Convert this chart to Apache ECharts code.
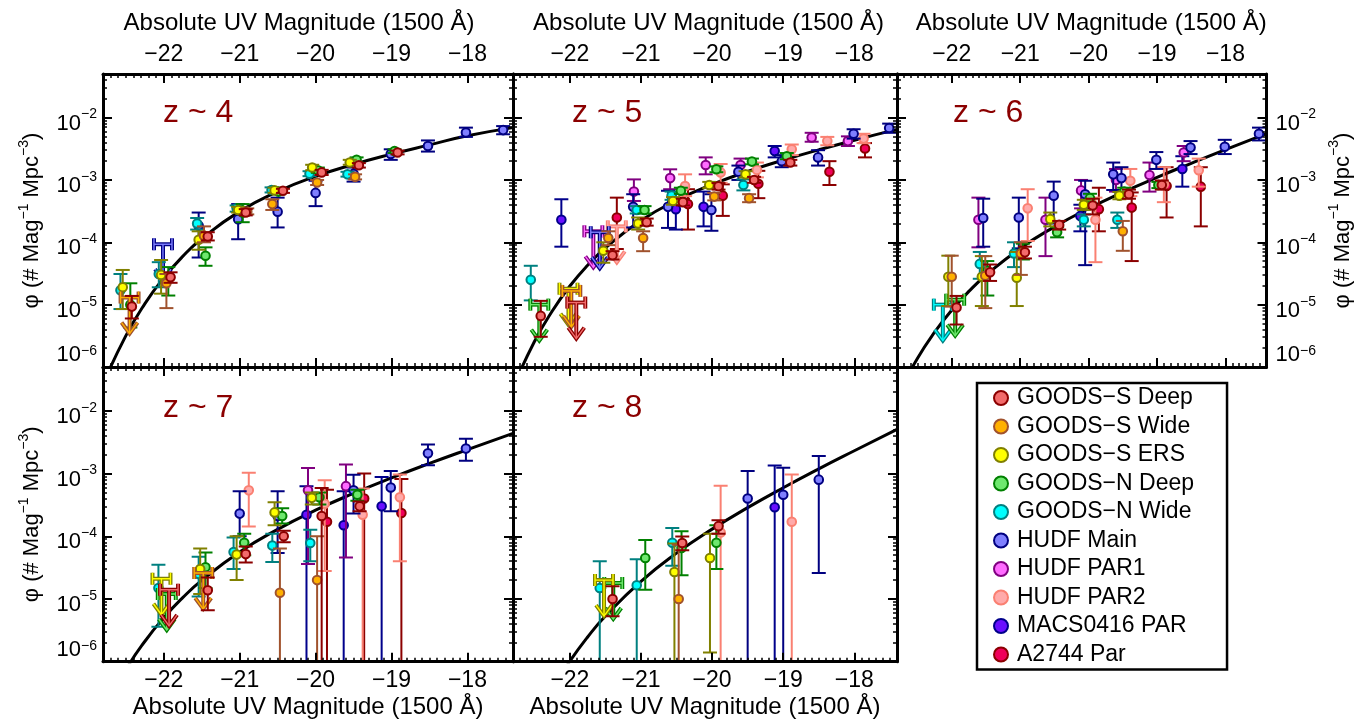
<!DOCTYPE html>
<html><head><meta charset="utf-8">
<script src="https://cdn.jsdelivr.net/npm/echarts@6/dist/echarts.min.js"></script>
<style>html,body{margin:0;padding:0;background:#fff}#c{width:1371px;height:725px}</style>
</head><body><div id="c"></div>
<script>
// ---------------- DATA ----------------
const FIELD_CODES = ['GSD','GSW','ERS','GND','GNW','HM','P1','P2','MACS','A2744'];
const FIELD_NAMES = ['GOODS−S Deep','GOODS−S Wide','GOODS−S ERS','GOODS−N Deep','GOODS−N Wide','HUDF Main','HUDF PAR1','HUDF PAR2','MACS0416 PAR','A2744 Par'];
const PANEL_LABELS = ['z ~ 4','z ~ 5','z ~ 6','z ~ 7','z ~ 8'];
const X_TICKS = [-22,-21,-20,-19,-18];
const Y_TICKS = [1e-6,1e-5,1e-4,1e-3,1e-2];

// Schechter fit curves at these magnitudes
const CURVE_MAGS = [-22.8,-22.5,-22.25,-22,-21.75,-21.5,-21,-20.5,-20,-19.5,-19,-18.5,-18,-17.4];
const z4Curve = [5.3e-7,3.16e-6,1.03e-5,2.69e-5,5.94e-5,1.14e-4,3.13e-4,6.52e-4,1.14e-3,1.77e-3,2.59e-3,3.65e-3,5.1e-3,6.9e-3];
const z5Curve = [4.66e-7,2.54e-6,7.83e-6,1.99e-5,4.29e-5,8.15e-5,2.23e-4,4.71e-4,8.45e-4,1.37e-3,2.08e-3,3.04e-3,4.34e-3,6.47e-3];
const z6Curve = [3.39e-7,1.38e-6,3.62e-6,8.15e-6,1.63e-5,2.96e-5,7.98e-5,1.77e-4,3.48e-4,6.34e-4,1.10e-3,1.85e-3,3.07e-3,5.52e-3];
const z7Curve = [1.64e-7,7.46e-7,2.10e-6,5.01e-6,1.05e-5,1.98e-5,5.62e-5,1.29e-4,2.61e-4,4.83e-4,8.51e-4,1.45e-3,2.41e-3,4.37e-3];
const z8Curve = [1.8e-8,1.08e-7,3.65e-7,1.02e-6,2.48e-6,5.35e-6,1.91e-5,5.38e-5,1.30e-4,2.86e-4,5.94e-4,1.19e-3,2.31e-3,5.05e-3];

// points: [field, M_UV, phi, phi_low, phi_high]
const z4Points = [
 ['GSD',-22.42,9.3e-6,6.0e-6,1.38e-5],['GSD',-21.91,2.75e-5,2.24e-5,3.3e-5],['GSD',-21.42,1.24e-4,1.07e-4,1.45e-4],['GSD',-20.92,3.0e-4,2.7e-4,3.4e-4],
 ['GSD',-20.43,6.7e-4,6.2e-4,7.2e-4],['GSD',-19.92,1.32e-3,1.2e-3,1.45e-3],['GSD',-19.43,1.72e-3,1.58e-3,1.86e-3],['GSD',-18.92,2.75e-3,2.57e-3,2.95e-3],
 ['GSW',-21.965,2.2e-5,8.8e-6,3.1e-5],['GSW',-21.47,1.27e-4,1.0e-4,1.8e-4],['GSW',-20.90,3.1e-4,2.8e-4,3.5e-4],['GSW',-20.57,4.1e-4,3.3e-4,4.9e-4],
 ['GSW',-19.98,9.1e-4,8.3e-4,1.0e-3],['GSW',-19.48,1.12e-3,1.02e-3,1.23e-3],
 ['ERS',-22.54,1.9e-5,8.5e-6,3.6e-5],['ERS',-22.035,3.0e-5,1.5e-5,5.2e-5],['ERS',-21.54,1.1e-4,7.6e-5,1.5e-4],['ERS',-21.02,3.3e-4,3.0e-4,3.7e-4],
 ['ERS',-20.54,6.8e-4,6.2e-4,7.5e-4],['ERS',-20.045,1.58e-3,1.43e-3,1.75e-3],['ERS',-19.55,1.9e-3,1.75e-3,2.1e-3],
 ['GND',-22.44,1.0e-5,4.3e-6,2.2e-5],['GND',-21.94,2.6e-5,1.4e-5,4.0e-5],['GND',-21.45,6.1e-5,4.2e-5,8.3e-5],['GND',-20.96,3.0e-4,2.1e-4,4.1e-4],
 ['GND',-20.49,6.5e-4,5.9e-4,7.2e-4],['GND',-19.97,1.43e-3,1.3e-3,1.58e-3],['GND',-19.46,2.1e-3,1.9e-3,2.3e-3],['GND',-18.96,2.9e-3,2.7e-3,3.1e-3],
 ['GNW',-22.57,1.7e-5,8.5e-6,3.1e-5],['GNW',-22.065,3.1e-5,1.9e-5,4.8e-5],['GNW',-21.56,2.0e-4,1.6e-4,2.45e-4],['GNW',-21.04,3.5e-4,3.1e-4,3.9e-4],
 ['GNW',-20.58,6.9e-4,6.3e-4,7.6e-4],['GNW',-20.08,1.26e-3,1.15e-3,1.38e-3],['GNW',-19.58,1.23e-3,1.13e-3,1.35e-3],
 ['HM',-21.54,1.85e-4,5.7e-5,3.0e-4],['HM',-21.02,2.35e-4,1.12e-4,4.1e-4],['HM',-20.50,3.1e-4,1.73e-4,5.2e-4],['HM',-20.00,6.2e-4,3.8e-4,9.7e-4],
 ['HM',-19.50,1.26e-3,9.4e-4,1.58e-3],['HM',-19.01,2.6e-3,2.1e-3,3.1e-3],['HM',-18.52,3.5e-3,2.85e-3,4.3e-3],['HM',-18.02,5.75e-3,4.9e-3,6.9e-3],
 ['HM',-17.53,6.3e-3,5.4e-3,7.3e-3]
];
const z4Limits = [['GSW',-22.45,1.3e-5],['HM',-22.01,9.3e-5]];

const z5Points = [
 ['GNW',-22.55,2.5e-5,1.17e-5,4.2e-5],['GNW',-21.06,3.3e-4,2.9e-4,3.8e-4],['GNW',-20.57,5.6e-4,4.8e-4,6.5e-4],['GNW',-19.56,8.3e-4,6.8e-4,1.02e-3],
 ['GSD',-22.41,6.6e-6,3.05e-6,1.15e-5],['GSD',-21.40,6.2e-5,5.3e-5,7.2e-5],['GSD',-20.92,2.1e-4,1.85e-4,2.4e-4],['GSD',-20.41,4.4e-4,3.9e-4,5.0e-4],
 ['GSD',-19.91,7.9e-4,7.0e-4,8.9e-4],['GSD',-19.41,1.0e-3,9.0e-4,1.12e-3],['GSD',-18.90,1.9e-3,1.7e-3,2.1e-3],
 ['GSW',-21.46,1.17e-4,9.0e-5,1.5e-4],['GSW',-20.97,1.17e-4,7.2e-5,1.5e-4],['GSW',-19.97,5.4e-4,4.7e-4,6.2e-4],['GSW',-19.48,5.1e-4,4.4e-4,5.9e-4],
 ['ERS',-21.53,7.3e-5,4.7e-5,1.0e-4],['ERS',-21.04,2.0e-4,1.6e-4,2.5e-4],['ERS',-20.55,4.6e-4,4.0e-4,5.3e-4],['ERS',-20.04,8.3e-4,7.4e-4,9.3e-4],['ERS',-19.53,1.23e-3,1.1e-3,1.38e-3],
 ['GND',-20.95,3.3e-4,2.9e-4,3.8e-4],['GND',-20.44,6.7e-4,6.0e-4,7.5e-4],['GND',-19.94,1.48e-3,1.33e-3,1.65e-3],['GND',-19.44,1.97e-3,1.78e-3,2.2e-3],['GND',-18.95,2.4e-3,2.15e-3,2.7e-3],
 ['HM',-21.11,3.7e-4,1.73e-4,5.9e-4],['HM',-20.62,3.7e-4,1.7e-4,6.7e-4],['HM',-20.01,3.3e-4,1.53e-4,5.9e-4],['HM',-19.63,1.35e-3,1.0e-3,1.7e-3],
 ['HM',-19.02,2.0e-3,1.6e-3,2.5e-3],['HM',-18.51,2.3e-3,1.7e-3,3.0e-3],['HM',-18.01,5.5e-3,4.6e-3,6.5e-3],['HM',-17.51,6.8e-3,5.7e-3,8.0e-3],
 ['P1',-21.10,6.5e-4,4.6e-4,1.02e-3],['P1',-20.59,1.07e-3,7.1e-4,1.48e-3],['P1',-20.09,1.74e-3,1.23e-3,2.3e-3],['P1',-19.60,1.74e-3,1.3e-3,2.2e-3],
 ['P1',-18.60,4.8e-3,4.1e-3,5.7e-3],['P1',-18.09,4.2e-3,3.5e-3,5.0e-3],
 ['P2',-20.38,8.0e-4,5.5e-4,1.23e-3],['P2',-19.88,1.32e-3,9.0e-4,1.8e-3],['P2',-19.37,1.45e-3,1.1e-3,1.9e-3],['P2',-18.88,3.1e-3,2.5e-3,3.7e-3],
 ['P2',-18.38,4.2e-3,3.6e-3,4.9e-3],['P2',-17.87,4.6e-3,3.9e-3,5.5e-3],
 ['MACS',-22.12,2.3e-4,8.5e-5,4.9e-4],['MACS',-20.51,3.4e-4,1.6e-4,6.0e-4],['MACS',-20.12,3.7e-4,1.8e-4,6.5e-4],['MACS',-19.12,2.9e-3,2.3e-3,3.5e-3],
 ['A2744',-21.34,2.5e-4,7.8e-5,5.2e-4],['A2744',-20.34,4.1e-4,1.6e-4,7.1e-4],['A2744',-19.85,5.6e-4,2.65e-4,8.5e-4],['A2744',-19.35,8.7e-4,5.1e-4,1.4e-3],
 ['A2744',-18.35,1.35e-3,8.3e-4,2.0e-3],['A2744',-17.85,3.2e-3,2.3e-3,3.9e-3]
];
const z5Limits = [['GND',-22.43,1.0e-5],['ERS',-22.02,1.8e-5],['GSW',-21.98,1.66e-5],['GSD',-21.91,1.08e-5],['P1',-21.67,1.5e-4],['HM',-21.58,1.45e-4],['P2',-21.34,1.8e-4]];

const z6Points = [
 ['ERS',-22.05,2.8e-5,9.5e-6,6.1e-5],['ERS',-21.56,2.8e-5,9.5e-6,6.0e-5],['ERS',-21.05,2.7e-5,9.5e-6,7.0e-5],['ERS',-20.56,2.35e-4,1.8e-4,3.0e-4],
 ['ERS',-20.07,4.0e-4,3.3e-4,4.8e-4],['ERS',-19.55,5.6e-4,4.9e-4,6.4e-4],
 ['GSW',-22.00,2.8e-5,9.3e-6,6.1e-5],['GSW',-21.51,2.9e-5,8.8e-6,6.0e-5],['GSW',-20.99,6.6e-5,3.0e-5,1.0e-4],['GSW',-19.50,1.5e-4,7.3e-5,2.2e-4],
 ['GSD',-21.93,9.0e-6,4.8e-6,1.38e-5],['GSD',-21.44,3.3e-5,2.4e-5,4.4e-5],['GSD',-20.93,6.9e-5,5.5e-5,8.5e-5],['GSD',-20.43,1.9e-4,1.6e-4,2.2e-4],
 ['GSD',-19.94,3.9e-4,2.8e-4,5.0e-4],['GSD',-19.41,5.9e-4,5.0e-4,7.0e-4],['GSD',-18.93,8.3e-4,7.0e-4,9.8e-4],
 ['GND',-21.48,3.5e-5,1.4e-5,5.0e-5],['GND',-20.96,7.2e-5,5.3e-5,9.5e-5],['GND',-20.46,1.45e-4,1.2e-4,1.75e-4],['GND',-19.98,5.1e-4,4.3e-4,6.0e-4],
 ['GND',-19.48,6.5e-4,5.6e-4,7.5e-4],['GND',-18.98,8.3e-4,7.4e-4,9.3e-4],
 ['GNW',-21.59,4.5e-5,2.6e-5,7.0e-5],['GNW',-21.09,6.6e-5,4.0e-5,1.0e-4],['GNW',-20.07,2.3e-4,1.8e-4,2.8e-4],['GNW',-19.58,2.3e-4,1.7e-4,3.0e-4],
 ['HM',-21.54,2.45e-4,8.5e-5,5.0e-4],['HM',-21.02,2.5e-4,8.0e-5,5.2e-4],['HM',-20.51,5.6e-4,2.0e-4,9.4e-4],['HM',-20.05,5.9e-4,4.3e-5,9.7e-4],
 ['HM',-19.64,1.23e-3,6.9e-4,1.9e-3],['HM',-19.52,1.07e-3,6.0e-4,1.6e-3],['HM',-19.01,2.1e-3,1.5e-3,2.8e-3],['HM',-18.51,3.3e-3,2.6e-3,4.2e-3],
 ['HM',-18.01,3.4e-3,2.6e-3,4.4e-3],['HM',-17.51,5.5e-3,4.3e-3,6.9e-3],
 ['P1',-21.61,2.3e-4,8.3e-5,5.2e-4],['P1',-20.63,2.3e-4,6.0e-5,5.2e-4],['P1',-20.11,6.8e-4,3.5e-4,1.0e-3],['P1',-19.60,1.0e-3,6.5e-4,1.5e-3],
 ['P1',-19.11,1.2e-3,6.5e-4,1.9e-3],['P1',-18.61,2.75e-3,2.0e-3,3.5e-3],
 ['P2',-20.89,3.5e-4,1.05e-4,7.1e-4],['P2',-19.90,2.3e-4,4.8e-5,5.2e-4],['P2',-19.39,9.7e-4,5.5e-4,1.5e-3],['P2',-18.90,8.5e-4,4.4e-4,1.6e-3],['P2',-18.39,1.43e-3,7.8e-4,2.2e-3],
 ['MACS',-20.12,2.65e-4,1.5e-4,4.0e-4],['MACS',-18.63,1.5e-3,7.8e-4,2.4e-3],
 ['A2744',-19.85,3.4e-4,1.5e-4,7.5e-4],['A2744',-19.37,3.6e-4,5.0e-5,6.3e-4],['A2744',-18.86,8.0e-4,2.5e-4,1.6e-3],['A2744',-18.36,7.8e-4,1.8e-4,1.6e-3]
];
const z6Limits = [['GNW',-22.13,1.0e-5],['GND',-21.95,1.2e-5]];

const z7Points = [
 ['GNW',-22.07,1.5e-5,3.6e-6,3.5e-5],['GNW',-21.54,2.5e-5,1.1e-5,4.7e-5],['GNW',-21.08,5.6e-5,3.0e-5,9.6e-5],['GNW',-20.57,7.1e-5,3.9e-5,1.1e-4],['GNW',-20.07,7.8e-5,4.0e-5,1.27e-4],
 ['ERS',-21.52,3.0e-5,1.2e-5,6.4e-5],['ERS',-21.04,5.1e-5,2.0e-5,1.0e-4],['ERS',-20.54,2.4e-4,1.5e-4,3.5e-4],['ERS',-20.05,4.1e-4,3.2e-4,5.0e-4],
 ['GND',-21.45,3.2e-5,1.5e-5,5.5e-5],['GND',-20.94,7.9e-5,5.0e-5,1.1e-4],['GND',-20.44,2.1e-4,1.6e-4,2.8e-4],['GND',-19.95,4.2e-4,3.2e-4,5.0e-4],['GND',-19.45,4.6e-4,3.7e-4,5.5e-4],
 ['GSD',-21.42,1.38e-5,6.6e-6,2.2e-5],['GSD',-20.92,5.2e-5,3.8e-5,6.9e-5],['GSD',-20.42,1.0e-4,8.0e-5,1.23e-4],['GSD',-19.92,2.1e-4,1e-7,5.9e-4],['GSD',-19.42,3.0e-4,2.5e-4,3.6e-4],
 ['GSW',-20.47,1.26e-5,1e-7,6.4e-5],['GSW',-19.98,2.0e-5,1e-7,1.0e-4],
 ['HM',-21.00,2.3e-4,1.0e-4,5.2e-4],['HM',-20.50,2.1e-4,5.4e-5,5.2e-4],['HM',-19.50,5.4e-4,2.3e-4,9.6e-4],['HM',-19.01,6.0e-4,2.5e-4,1.1e-3],
 ['HM',-18.52,2.1e-3,1.36e-3,2.9e-3],['HM',-18.02,2.5e-3,1.6e-3,3.6e-3],
 ['P1',-20.10,5.4e-4,3.6e-5,1.23e-3],['P1',-19.60,6.3e-4,4.6e-5,1.4e-3],
 ['P2',-20.88,5.4e-4,1.43e-4,1.03e-3],['P2',-19.88,3.3e-4,2.8e-5,7.8e-4],['P2',-19.38,2.2e-4,1e-7,5.8e-4],['P2',-18.89,4.2e-4,4.0e-5,9.7e-4],
 ['MACS',-20.12,2.2e-4,1e-7,6.3e-4],['MACS',-19.63,1.5e-4,1e-7,5.2e-4],['MACS',-19.13,3.0e-4,1e-7,8.8e-4],
 ['A2744',-19.85,1.7e-4,1e-7,5.5e-4],['A2744',-19.36,4.0e-4,1e-7,1.0e-3],['A2744',-18.87,2.35e-4,1e-7,8.2e-4]
];
const z7Limits = [['ERS',-22.03,2.1e-5],['GND',-21.96,1.2e-5],['GSD',-21.93,1.4e-5],['GSW',-21.48,2.6e-5]];

const z8Points = [
 ['GNW',-21.58,1.5e-5,1e-7,4.0e-5],['GNW',-21.06,1.66e-5,1e-7,4.3e-5],['GNW',-20.56,7.9e-5,3.4e-5,1.36e-4],
 ['GSD',-21.40,1.0e-5,5.3e-6,1.6e-5],['GSD',-20.42,7.8e-5,6.0e-5,9.9e-5],['GSD',-19.91,1.45e-4,1.1e-4,1.8e-4],
 ['GND',-20.94,4.5e-5,1.4e-5,8.7e-5],['GND',-20.43,6.5e-5,2.4e-5,1.2e-4],['GND',-19.94,7.9e-5,3.0e-5,1.5e-4],
 ['ERS',-20.53,2.7e-5,1e-7,7.7e-5],['ERS',-20.03,4.5e-5,1.4e-6,1.1e-4],
 ['GSW',-20.47,1.0e-5,1e-7,7.3e-5],
 ['P2',-19.88,1.15e-4,1e-7,6.4e-4],['P2',-18.88,1.7e-4,1e-7,9.7e-4],
 ['HM',-19.50,4.0e-4,1e-7,1.1e-3],['HM',-19.00,4.6e-4,1e-7,1.24e-3],['HM',-18.50,8.0e-4,2.6e-5,1.9e-3],
 ['MACS',-19.12,2.9e-4,1e-7,1.35e-3]
];
const z8Limits = [['ERS',-21.52,2.0e-5],['GND',-21.39,1.8e-5]];

// ---------------- STYLE ----------------
const FILL = ['#f26b6b','#ffb000','#ffff00','#6ee86e','#00ffff','#7f7fff','#ff6bff','#ffaaaa','#6a0fff','#f0005a'];
const EDGE = ['#8b0000','#a0522d','#808000','#008000','#008080','#000080','#800080','#fa8072','#00008b','#8b0000'];
const FONT = '"Liberation Sans", Arial, Helvetica, sans-serif';
const XMIN = -22.8, XMAX = -17.4, YMIN = 1e-6, YMAX = 0.05;
const GRIDS = [
  {left:103, top:74, width:410, height:293},
  {left:513, top:74, width:384, height:293},
  {left:897, top:74, width:369.5, height:293},
  {left:103, top:367, width:410, height:294.7},
  {left:513, top:367, width:384, height:294.7}
];
const LABEL_POS = [[163,97],[572,97],[953,97],[163,392],[572,392]];
const TOP_NAME_PAD = [[0,18,0,0],[0,0,0,7],[0,0,0,19]];

const X_MINOR = [];
for (let v = -227; v <= -175; v++) if (v % 10 !== 0) X_MINOR.push(v / 10);
const Y_MINOR = [];
for (let e = -6; e <= -2; e++) for (let m = 2; m <= 9; m++) { const v = m * Math.pow(10, e); if (v <= YMAX * 1.0001) Y_MINOR.push(v); }

const PANELS = [
  {pts:z4Points, lim:z4Limits, curve:z4Curve},
  {pts:z5Points, lim:z5Limits, curve:z5Curve},
  {pts:z6Points, lim:z6Limits, curve:z6Curve},
  {pts:z7Points, lim:z7Limits, curve:z7Curve},
  {pts:z8Points, lim:z8Limits, curve:z8Curve}
];

const X_NAME = 'Absolute UV Magnitude (1500 Å)';
const Y_NAME = 'φ (# Mag{s|−1} Mpc{s|−3})';

function xFmt(v) { return (v < 0 ? '−' : '') + Math.abs(v); }
function yFmt(v) {
  const e = Math.round(Math.log10(v));
  const s = '−' + Math.abs(e);
  return e === -6 ? '{g6|\u200b}{b6|10}{s|' + s + '}' : '{g|\u200b}{b|10}{s|' + s + '}';
}
const Y_RICH = {
  g: {fontSize:2, lineHeight:27, width:0},
  g6: {fontSize:2, lineHeight:53, width:0},
  b: {fontSize:22, lineHeight:22, verticalAlign:'bottom', color:'#000', fontFamily:FONT},
  b6: {fontSize:22, lineHeight:32, verticalAlign:'top', color:'#000', fontFamily:FONT},
  s: {fontSize:14, lineHeight:14, verticalAlign:'top', color:'#000', fontFamily:FONT}
};

function makeX(gi, pos, major, showLabel, name, pad) {
  return {
    type:'value', gridIndex:gi, position:pos, min:XMIN, max:XMAX,
    axisLine:{show:major, onZero:false, lineStyle:{color:'#000', width:3}},
    axisTick:{show:true, inside:true, length:major?9:4, lineStyle:{color:'#000', width:major?2:1.5}, customValues: major?X_TICKS:X_MINOR},
    axisLabel:{show:showLabel, customValues:X_TICKS, formatter:xFmt, fontSize:23, color:'#000', fontFamily:FONT, margin:6, lineHeight:26},
    splitLine:{show:false}, minorTick:{show:false}, minorSplitLine:{show:false},
    name:name, nameLocation:'middle', nameGap: pos === 'top' ? 37 : 32, nameMoveOverlap:false,
    nameTextStyle:{fontSize:24, color:'#000', fontFamily:FONT, lineHeight:28, padding: pad || 0},
    z: major ? 10 : 9
  };
}
function makeY(gi, pos, major, showLabel, showName) {
  return {
    type:'log', logBase:10, gridIndex:gi, position:pos, min:YMIN, max:YMAX,
    axisLine:{show:major, onZero:false, lineStyle:{color:'#000', width:3}},
    axisTick:{show:true, inside:true, length:major?9:4, lineStyle:{color:'#000', width:major?2:1.5}, customValues: major?Y_TICKS:Y_MINOR},
    axisLabel:{show:showLabel, customValues:Y_TICKS, formatter:yFmt, rich:Y_RICH, color:'#000', fontFamily:FONT, margin: pos === 'left' ? 6 : 9, padding:[7,0,0,0]},
    splitLine:{show:false}, minorTick:{show:false},
    name: showName ? Y_NAME : '', nameLocation:'middle', nameRotate:90, nameGap: pos === 'left' ? 56 : 61, nameMoveOverlap:false,
    nameTextStyle:{fontSize:22, lineHeight:30, color:'#000', fontFamily:FONT,
      rich:{s:{fontSize:14, lineHeight:14, verticalAlign:'top', color:'#000', fontFamily:FONT}}},
    z: major ? 10 : 9
  };
}

function pointRenderer(fill, edge) {
  return function (params, api) {
    const m = api.value(0), p = api.value(1), lo = api.value(2), hi = api.value(3);
    const c = api.coord([m, p]), a = api.coord([m, hi]), b = api.coord([m, lo]);
    const x = c[0], cap = 7;
    const st = {stroke: edge, lineWidth: 2};
    return {type:'group', children:[
      {type:'line', shape:{x1:x, y1:a[1], x2:x, y2:b[1]}, style:st},
      {type:'line', shape:{x1:x-cap, y1:a[1], x2:x+cap, y2:a[1]}, style:st},
      {type:'line', shape:{x1:x-cap, y1:b[1], x2:x+cap, y2:b[1]}, style:st},
      {type:'circle', shape:{cx:x, cy:c[1], r:4.3}, style:{fill:fill, stroke:edge, lineWidth:2}}
    ]};
  };
}
function limitRenderer(fill, edge) {
  return function (params, api) {
    const c = api.coord([api.value(0), api.value(1)]);
    const x = c[0], y = c[1], w = 9, h = 6, L = 36, aw = 8, ah = 11;
    const paths = [
      [[x-w,y-h],[x-w,y+h]], [[x+w,y-h],[x+w,y+h]], [[x-w,y],[x+w,y]],
      [[x,y],[x,y+L]], [[x-aw,y+L-ah],[x,y+L],[x+aw,y+L-ah]]
    ];
    const children = [];
    paths.forEach(pts => children.push({type:'polyline', shape:{points:pts}, style:{stroke:edge, lineWidth:4, fill:null}}));
    paths.forEach(pts => children.push({type:'polyline', shape:{points:pts}, style:{stroke:fill, lineWidth:1.4, fill:null}}));
    return {type:'group', children:children};
  };
}

const xAxes = [], yAxes = [], series = [], titles = [];
GRIDS.forEach((g, gi) => {
  const row1 = gi < 3;
  xAxes.push(makeX(gi, 'bottom', true, !row1, row1 ? '' : X_NAME, null));
  xAxes.push(makeX(gi, 'top', true, row1, row1 ? X_NAME : '', row1 ? TOP_NAME_PAD[gi] : null));
  xAxes.push(makeX(gi, 'bottom', false, false, '', null));
  xAxes.push(makeX(gi, 'top', false, false, '', null));
  const leftLab = (gi === 0 || gi === 3);
  yAxes.push(makeY(gi, 'left', true, leftLab, leftLab));
  yAxes.push(makeY(gi, 'right', true, gi === 2, gi === 2));
  yAxes.push(makeY(gi, 'left', false, false, false));
  yAxes.push(makeY(gi, 'right', false, false, false));
  titles.push({text: PANEL_LABELS[gi], left: LABEL_POS[gi][0], top: LABEL_POS[gi][1], padding:0,
    textStyle:{fontSize:32, fontWeight:'normal', color:'#8b0000', fontFamily:FONT}});
});

PANELS.forEach((P, gi) => {
  const xi = gi * 4, yi = gi * 4;
  series.push({type:'line', xAxisIndex:xi, yAxisIndex:yi, data: CURVE_MAGS.map((m, i) => [m, P.curve[i]]),
    symbol:'none', showSymbol:false, smooth:0.5, lineStyle:{color:'#000', width:3},
    clip:true, silent:true, z:3});
  for (let k = FIELD_CODES.length - 1; k >= 0; k--) {
    const code = FIELD_CODES[k];
    const pts = P.pts.filter(r => r[0] === code).map(r => r.slice(1));
    const lim = P.lim.filter(r => r[0] === code).map(r => r.slice(1));
    if (pts.length) series.push({type:'custom', name:FIELD_NAMES[k], xAxisIndex:xi, yAxisIndex:yi, data:pts,
      dimensions:['M','phi','lo','hi'], encode:{x:0, y:1}, renderItem:pointRenderer(FILL[k], EDGE[k]),
      clip:true, silent:true, z:4, itemStyle:{color:FILL[k], borderColor:EDGE[k]}});
    if (lim.length) series.push({type:'custom', name:FIELD_NAMES[k], xAxisIndex:xi, yAxisIndex:yi, data:lim,
      dimensions:['M','phi'], encode:{x:0, y:1}, renderItem:limitRenderer(FILL[k], EDGE[k]),
      clip:true, silent:true, z:4, itemStyle:{color:FILL[k], borderColor:EDGE[k]}});
  }
});

const chart = echarts.init(document.getElementById('c'), null, {renderer:'canvas'});
chart.setOption({
  animation:false,
  backgroundColor:'#fff',
  textStyle:{fontFamily:FONT},
  title: titles,
  grid: GRIDS.map(g => Object.assign({containLabel:false, outerBoundsMode:'none'}, g)),
  xAxis: xAxes,
  yAxis: yAxes,
  legend: {
    orient:'vertical', left:977, top:383, padding:[3,33,3,16], itemGap:4.5, itemWidth:14, itemHeight:14,
    borderColor:'#000', borderWidth:2.5, selectedMode:false,
    textStyle:{fontSize:23, color:'#000', fontFamily:FONT, lineHeight:24, padding:[0,0,0,4]},
    data: FIELD_NAMES.map((n, i) => ({name:n, icon:'circle', itemStyle:{color:FILL[i], borderColor:EDGE[i], borderWidth:2}}))
  },
  series: series
});
</script>
</body></html>
